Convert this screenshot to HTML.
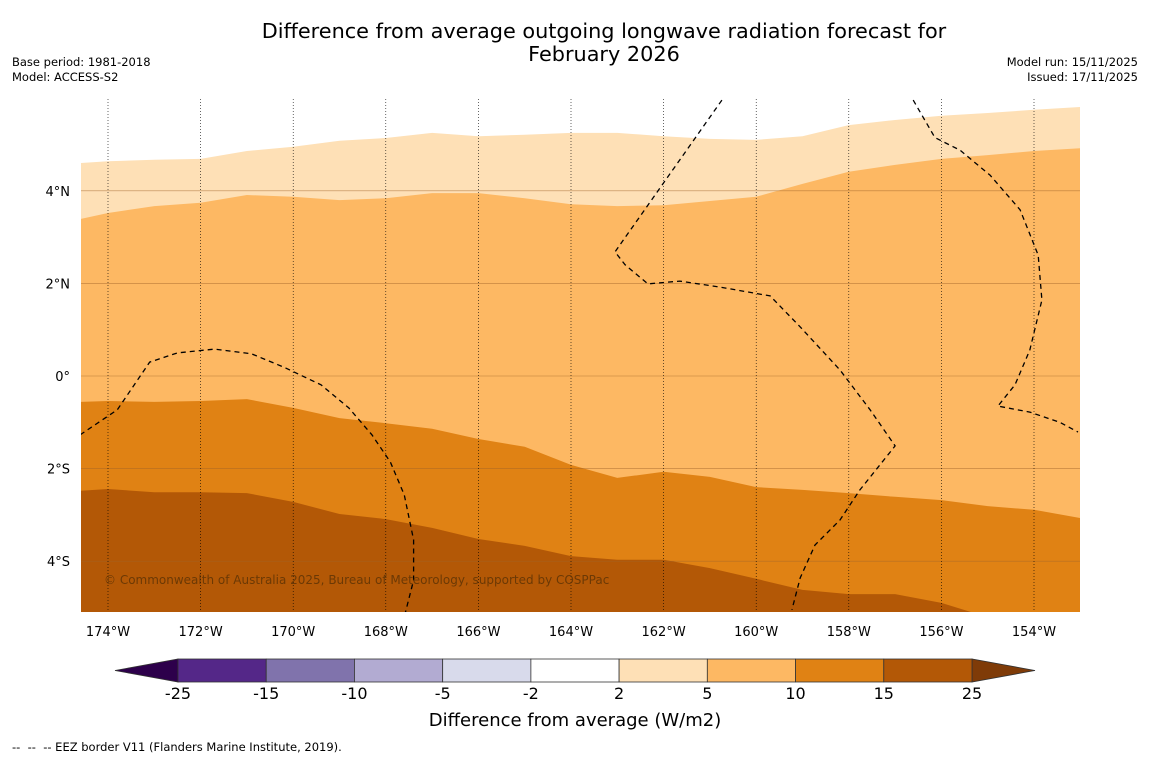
<!DOCTYPE html>
<html><head><meta charset="utf-8"><style>
body{margin:0;background:#fff;width:1150px;height:758px;overflow:hidden;font-family:"DejaVu Sans","Liberation Sans",sans-serif}
svg{display:block}
</style></head><body>
<svg id="chart" width="1150" height="758" font-family="DejaVu Sans, Liberation Sans, sans-serif">
<rect width="1150" height="758" fill="#fff"/>
<text x="604" y="38" font-size="20.8" text-anchor="middle">Difference from average outgoing longwave radiation forecast for</text>
<text x="604" y="61" font-size="20.8" text-anchor="middle">February 2026</text>
<text x="12" y="66" font-size="11.5">Base period: 1981-2018</text>
<text x="12" y="81" font-size="11.5">Model: ACCESS-S2</text>
<text x="1138" y="66" font-size="11.5" text-anchor="end">Model run: 15/11/2025</text>
<text x="1138" y="81" font-size="11.5" text-anchor="end">Issued: 17/11/2025</text>
<defs><clipPath id="mapclip"><rect x="81" y="99" width="999" height="513"/></clipPath></defs>
<g id="map" clip-path="url(#mapclip)"></g>
<g id="axes"></g>
<g id="cbar"></g>
<text x="575" y="726" font-size="18" text-anchor="middle">Difference from average (W/m2)</text>
<text x="12" y="751" font-size="11.5" xml:space="preserve">--  --  -- EEZ border V11 (Flanders Marine Institute, 2019).</text>
</svg>
<script>
const lons=[-174.6,-174,-173,-172,-171,-170,-169,-168,-167,-166,-165,-164,-163,-162,-161,-160,-159,-158,-157,-156,-155,-154,-153];
const b2lat=[4.60,4.64,4.67,4.69,4.86,4.95,5.08,5.14,5.25,5.18,5.21,5.25,5.25,5.18,5.12,5.10,5.18,5.42,5.53,5.62,5.68,5.75,5.81];
const b5lat=[3.39,3.52,3.67,3.74,3.91,3.87,3.80,3.84,3.95,3.95,3.84,3.71,3.67,3.69,3.78,3.87,4.15,4.41,4.56,4.69,4.77,4.86,4.92];
const b10lat=[-0.56,-0.54,-0.56,-0.54,-0.50,-0.69,-0.91,-1.02,-1.14,-1.36,-1.53,-1.92,-2.20,-2.07,-2.18,-2.40,-2.46,-2.53,-2.61,-2.68,-2.81,-2.89,-3.07];
const b15lat=[-2.48,-2.44,-2.51,-2.51,-2.53,-2.72,-2.98,-3.09,-3.28,-3.52,-3.67,-3.89,-3.97,-3.97,-4.15,-4.38,-4.62,-4.71,-4.71,-4.90,-5.21,-5.5,-5.7];
const lonTicks=[-174,-172,-170,-168,-166,-164,-162,-160,-158,-156,-154];
const latTicks=[4,2,0,-2,-4];
const latLabels=["4°N","2°N","0°","2°S","4°S"];
const cbLevels=["-25","-15","-10","-5","-2","2","5","10","15","25"];
const cbColors=["#542788","#8073ac","#b2abd2","#d8daeb","#ffffff","#fee0b6","#fdb863","#e08214","#b35806"];
const eezA=[[-160.74,5.96],[-163.05,2.68],[-162.83,2.40],[-162.34,1.99],[-161.65,2.05],[-160.78,1.92],[-159.70,1.73],[-159.05,1.06],[-158.19,0.13],[-157.54,-0.73],[-157.0,-1.51],[-157.76,-2.46],[-158.19,-3.11],[-158.73,-3.65],[-159.05,-4.36],[-159.23,-5.05]];
const eezB=[[-156.61,5.96],[-156.14,5.15],[-155.60,4.88],[-154.95,4.34],[-154.30,3.59],[-153.91,2.61],[-153.83,1.64],[-154.09,0.56],[-154.41,-0.19],[-154.78,-0.65],[-154.09,-0.78],[-153.44,-1.00],[-153.05,-1.21]];
const eezC=[[-174.6,-1.27],[-173.8,-0.73],[-173.1,0.30],[-172.5,0.50],[-171.7,0.58],[-170.9,0.48],[-170.2,0.19],[-169.4,-0.19],[-168.8,-0.69],[-168.3,-1.27],[-167.9,-1.86],[-167.6,-2.57],[-167.4,-3.54],[-167.4,-4.41],[-167.6,-5.2]];
const X=l=>108+(l+174)*46.3, Y=la=>376-la*46.3;
const NS="http://www.w3.org/2000/svg";
function mk(tag,at,parent){const e=document.createElementNS(NS,tag);for(const k in at)e.setAttribute(k,at[k]);parent.appendChild(e);return e;}
const map=document.getElementById('map'),axes=document.getElementById('axes'),cb=document.getElementById('cbar');
let bg=mk('rect',{x:81,y:99,width:999,height:513,fill:"#b35806"},map);


function band(lats,fill,name){
  let d="M"+X(lons[0])+",90 ";
  lons.forEach((l,i)=>{d+="L"+X(l).toFixed(1)+","+Y(lats[i]).toFixed(1)+" ";});
  d+="L"+X(lons[lons.length-1])+",90Z";
  const p=mk('path',{d:d,fill:fill},map);
  
  
}
band(b15lat,"#e08214","band-10-15");
band(b10lat,"#fdb863","band-5-10");
band(b5lat,"#fee0b6","band-2-5");
band(b2lat,"#ffffff","band-neutral");
latTicks.forEach((t,i)=>{
  const g=mk('line',{x1:81,x2:1080,y1:Y(t),y2:Y(t),stroke:"#a0642a","stroke-width":0.6,"stroke-opacity":0.7},map);
  
  
  const tx=mk('text',{x:70,y:Y(t)+5,"font-size":13,"text-anchor":"end"},axes);
  tx.textContent=latLabels[i];
  
  
});
lonTicks.forEach(t=>{
  const g=mk('line',{x1:X(t),x2:X(t),y1:99,y2:612,stroke:"#000","stroke-width":0.6,"stroke-dasharray":"1,2"},map);
  
  
  const tx=mk('text',{x:X(t),y:636,"font-size":13,"text-anchor":"middle"},axes);
  tx.textContent=Math.abs(t)+"°W";
  
  
});
[eezA,eezB,eezC].forEach(arr=>{
  const p=mk('polyline',{points:arr.map(a=>X(a[0]).toFixed(1)+","+Y(a[1]).toFixed(1)).join(" "),fill:"none",stroke:"#000","stroke-width":1.3,"stroke-dasharray":"5,4"},map);
  
  
});
const cr=mk('text',{x:104,y:584,"font-size":12,fill:"#5a3205","fill-opacity":0.8},map);
cr.textContent="© Commonwealth of Australia 2025, Bureau of Meteorology, supported by COSPPac";


const cx0=178,cw=(972-178)/cbColors.length,cy=659,ch=23;
let l=mk('polygon',{points:`115,${cy+ch/2} ${cx0},${cy} ${cx0},${cy+ch}`,fill:"#2d004b",stroke:"#333","stroke-width":0.8},cb);


let r=mk('polygon',{points:`1035,${cy+ch/2} 972,${cy} 972,${cy+ch}`,fill:"#7f3b08",stroke:"#333","stroke-width":0.8},cb);


cbColors.forEach((c,i)=>{
  const s=mk('rect',{x:cx0+i*cw,y:cy,width:cw,height:ch,fill:c,stroke:"#333","stroke-width":0.8},cb);
  
  
});
cbLevels.forEach((v,i)=>{
  const t=mk('text',{x:cx0+i*cw,y:699,"font-size":16,"text-anchor":"middle"},cb);
  t.textContent=v;
  
  
});
</script>
</body></html>
